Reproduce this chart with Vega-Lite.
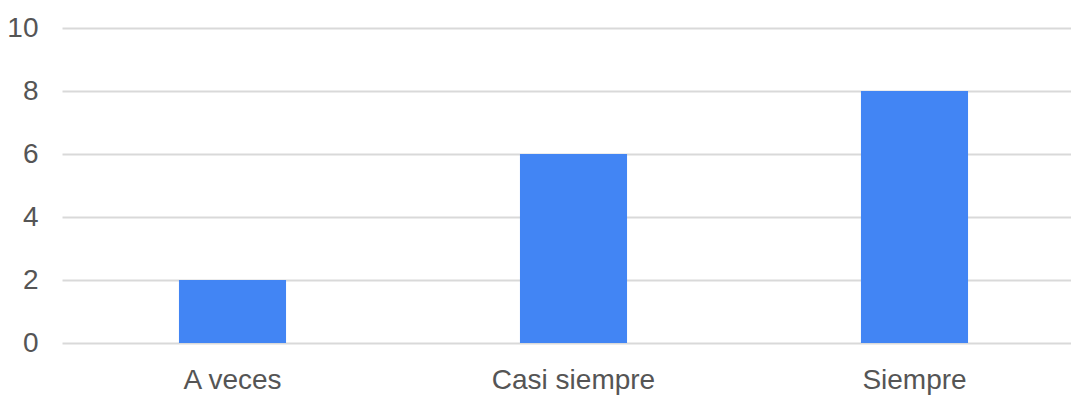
{
  "$schema": "https://vega.github.io/schema/vega-lite/v6.json",
  "autosize": {"type": "none"},
  "width": 1009,
  "height": 315,
  "padding": {"left": 62, "top": 28, "right": 0, "bottom": 56},
  "background": "#ffffff",
  "data": {
    "values": [
      {"respuesta": "A veces", "cantidad": 2},
      {"respuesta": "Casi siempre", "cantidad": 6},
      {"respuesta": "Siempre", "cantidad": 8}
    ]
  },
  "mark": {"type": "bar", "color": "#4285F4"},
  "encoding": {
    "x": {
      "field": "respuesta",
      "type": "nominal",
      "sort": null,
      "scale": {"range": [0, 1023], "paddingInner": 0.686, "paddingOuter": 0.343},
      "axis": {
        "title": null,
        "labelAngle": 0,
        "domain": false,
        "ticks": false,
        "grid": false,
        "labelFont": "Liberation Sans",
        "labelFontSize": 28,
        "labelColor": "#555555",
        "labelPadding": 23
      }
    },
    "y": {
      "field": "cantidad",
      "type": "quantitative",
      "scale": {"domain": [0, 10], "nice": false},
      "axis": {
        "title": null,
        "values": [0, 2, 4, 6, 8, 10],
        "domain": false,
        "ticks": false,
        "grid": true,
        "gridColor": "#d9d9d9",
        "gridWidth": 2,
        "labelFont": "Liberation Sans",
        "labelFontSize": 28,
        "labelColor": "#555555",
        "labelPadding": 24
      }
    }
  },
  "config": {"view": {"stroke": null}}
}
